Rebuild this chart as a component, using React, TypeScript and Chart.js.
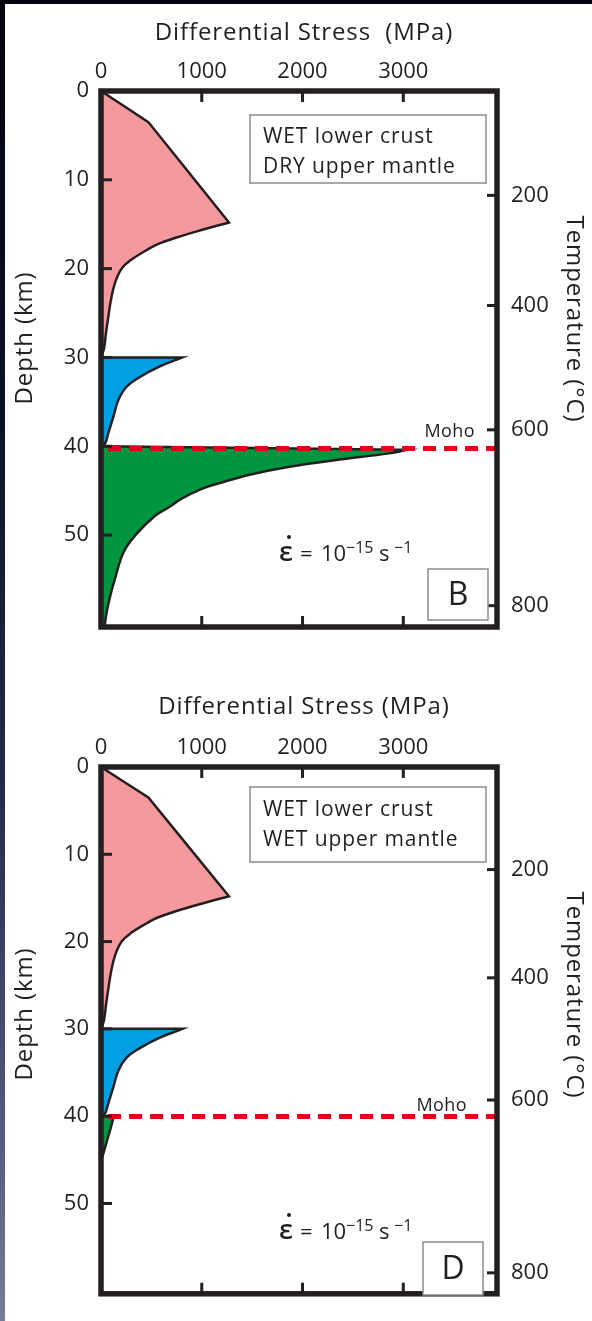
import React, { useEffect, useRef } from 'react';
import { Chart, registerables } from 'chart.js';

Chart.register(...registerables);

// ---------- data ----------
const stressTicks = [0, 1000, 2000, 3000];
const depthTicks = [0, 10, 20, 30, 40, 50];
const tempLabels = [200, 400, 600, 800];
const tempDepths = [11.75, 24.15, 38.15, 57.95];
const stressMax = 3930;
const depthMax = 60.35;

const mohoDepthB = 40.25;
const mohoDepthD = 40.05;
const mohoStress = [70, 3930];

// WET lower crust, upper part (pink) — same in both panels (corner points repeated)
const crustStress = [0, 470, 470, 1270, 1270, 1015, 750, 552, 455, 300, 205, 139, 99, 73, 50, 30, 0];
const crustDepth = [0, 3.5, 3.5, 14.8, 14.8, 15.6, 16.5, 17.3, 17.9, 19, 20, 21.6, 23.5, 25.4, 27.2, 29, 30];

// lower crust (blue)
const lowerStress = [0, 808, 808, 584, 386, 254, 172, 122, 73, 40, 0];
const lowerDepth = [30, 30, 30, 31, 32.2, 33.3, 34.8, 36.7, 38.5, 39.7, 40];

// DRY upper mantle (panel B, green)
const dryMantleStress = [0, 3040, 3040, 2860, 2366, 1871, 1475, 1160, 1000, 800, 670, 540, 350, 225, 139, 90, 56, 35, 35, 0];
const dryMantleDepth = [40, 40.4, 40.4, 40.8, 41.5, 42.3, 43.2, 44.2, 44.8, 45.9, 46.9, 47.8, 49.9, 51.9, 54.9, 56.9, 58.7, 60.35, 60.35, 60.35];

// WET upper mantle (panel D, green)
const wetMantleStress = [0, 120, 120, 115, 100, 80, 55, 30, 10, 0];
const wetMantleDepth = [40, 40, 40, 40.5, 41.2, 42, 43, 44, 44.8, 45.2];

// ---------- styling ----------
const FONT = '"Open Sans", "Noto Sans", sans-serif';
const INK = '#231f20';
const PINK = '#f4999d';
const BLUE = '#009ee2';
const GREEN = '#009640';
const RED = '#e2001a';

const zip = (xs: number[], ys: number[]) => xs.map((x, i) => ({ x, y: ys[i] }));

interface Deco {
  title: string;
  titleY: number;
  legend: string[];
  legendBox: [number, number, number, number];
  legendY: [number, number];
  mohoX: number;
  mohoY: number;
  strainY: number;
  letter: string;
  letterBox: [number, number, number, number];
}

function setSpacing(ctx: any, px: number) {
  try { ctx.letterSpacing = px + 'px'; } catch (e) { /* ignore */ }
}

const framePlugin = {
  id: 'frameTicks',
  afterDatasetsDraw(chart: any) {
    const ctx = chart.ctx;
    const a = chart.chartArea;
    ctx.save();
    ctx.strokeStyle = INK;
    ctx.lineCap = 'butt';
    ctx.lineWidth = 3;
    const xs = chart.scales.x;
    xs.ticks.forEach((t: any) => {
      if (t.value <= xs.min || t.value >= xs.max) return;
      const px = xs.getPixelForValue(t.value);
      ctx.beginPath();
      ctx.moveTo(px, a.top); ctx.lineTo(px, a.top + 11);
      ctx.moveTo(px, a.bottom); ctx.lineTo(px, a.bottom - 11);
      ctx.stroke();
    });
    const ys = chart.scales.y;
    ys.ticks.forEach((t: any) => {
      if (t.value <= ys.min || t.value >= ys.max) return;
      const py = ys.getPixelForValue(t.value);
      ctx.beginPath(); ctx.moveTo(a.left, py); ctx.lineTo(a.left + 11, py); ctx.stroke();
    });
    const yt = chart.scales.yT;
    yt.ticks.forEach((t: any) => {
      const py = yt.getPixelForValue(t.value);
      ctx.beginPath(); ctx.moveTo(a.right, py); ctx.lineTo(a.right - 10, py); ctx.stroke();
    });
    ctx.lineWidth = 5.5;
    ctx.lineJoin = 'miter';
    ctx.strokeRect(a.left, a.top, a.right - a.left, a.bottom - a.top);
    ctx.restore();
  },
};

function makeDecoPlugin(d: Deco) {
  return {
    id: 'deco',
    afterDraw(chart: any) {
      const ctx = chart.ctx;
      ctx.save();
      ctx.fillStyle = INK;
      // axis titles
      ctx.font = `500 24px ${FONT}`;
      setSpacing(ctx, 0.9);
      ctx.textAlign = 'center';
      ctx.textBaseline = 'middle';
      ctx.fillText(d.title, 304, d.titleY);
      ctx.save();
      ctx.translate(25, 338);
      ctx.rotate(-Math.PI / 2);
      ctx.fillText('Depth (km)', 0, 0);
      ctx.restore();
      ctx.save();
      ctx.translate(574, 319);
      ctx.rotate(Math.PI / 2);
      ctx.fillText('Temperature (°C)', 0, 0);
      ctx.restore();

      // legend box
      const [bx, by, bw, bh] = d.legendBox;
      ctx.strokeStyle = '#8c8c8c';
      ctx.lineWidth = 1.5;
      ctx.fillStyle = '#ffffff';
      ctx.fillRect(bx, by, bw, bh);
      ctx.strokeRect(bx, by, bw, bh);
      ctx.fillStyle = INK;
      ctx.font = `500 21px ${FONT}`;
      setSpacing(ctx, 0.9);
      ctx.textAlign = 'left';
      ctx.fillText(d.legend[0], bx + 13, d.legendY[0]);
      ctx.fillText(d.legend[1], bx + 13, d.legendY[1]);

      // Moho label
      ctx.font = `500 18px ${FONT}`;
      setSpacing(ctx, 0.4);
      ctx.textAlign = 'right';
      ctx.textBaseline = 'alphabetic';
      ctx.fillText('Moho', d.mohoX, d.mohoY);

      // strain rate
      setSpacing(ctx, 0);
      ctx.textAlign = 'left';
      const base = d.strainY + 9;
      ctx.font = `600 27px ${FONT}`;
      ctx.fillText('ε', 279, base);
      ctx.beginPath();
      ctx.arc(289, base - 24, 2, 0, Math.PI * 2);
      ctx.fill();
      ctx.font = `500 22px ${FONT}`;
      ctx.fillText('=', 300, base);
      ctx.fillText('10', 321, base);
      ctx.fillText('s', 379, base);
      ctx.font = `500 16px ${FONT}`;
      ctx.fillText('−15', 346, base - 8);
      ctx.fillText('−1', 394, base - 8);

      // panel letter
      const [lx, ly, lw, lh] = d.letterBox;
      ctx.fillStyle = '#ffffff';
      ctx.fillRect(lx, ly, lw, lh);
      ctx.strokeStyle = '#8c8c8c';
      ctx.lineWidth = 1.5;
      ctx.strokeRect(lx, ly, lw, lh);
      ctx.fillStyle = INK;
      ctx.font = `500 32px ${FONT}`;
      ctx.textAlign = 'center';
      ctx.textBaseline = 'middle';
      ctx.fillText(d.letter, lx + lw / 2, ly + lh / 2 + 1);
      ctx.restore();
    },
  };
}

interface PanelProps {
  top: number;
  height: number;
  mantleStress: number[];
  mantleDepth: number[];
  mohoDepth: number;
  deco: Deco;
}

function Panel({ top, height, mantleStress, mantleDepth, mohoDepth, deco }: PanelProps) {
  const ref = useRef<HTMLCanvasElement>(null);
  useEffect(() => {
    const canvas = ref.current!;
    const tickFont = { family: FONT, size: 22, weight: '500' };
    const area = (label: string, xs: number[], ys: number[], color: string) => ({
      label,
      data: zip(xs, ys),
      showLine: true,
      borderColor: INK,
      borderWidth: 2.5,
      backgroundColor: color,
      fill: 'shape',
      tension: 0.4,
      pointRadius: 0,
    });
    const chart = new Chart(canvas, {
      type: 'scatter',
      data: {
        datasets: [
          {
            label: 'Moho',
            data: zip(mohoStress, mohoStress.map(() => mohoDepth)),
            showLine: true,
            borderColor: RED,
            borderWidth: 5,
            borderDash: [13, 8],
            pointRadius: 0,
            fill: false,
          } as any,
          area('upper crust', crustStress, crustDepth, PINK),
          area('lower crust', lowerStress, lowerDepth, BLUE),
          area('upper mantle', mantleStress, mantleDepth, GREEN),
        ],
      },
      options: {
        animation: false,
        responsive: false,
        devicePixelRatio: 1,
        events: [],
        layout: { padding: { left: 0, right: 0, top: 0, bottom: height - 627 } },
        plugins: { legend: { display: false }, tooltip: { enabled: false } },
        scales: {
          x: {
            type: 'linear',
            position: 'top',
            min: 0,
            max: stressMax,
            afterBuildTicks: (s: any) => { s.ticks = stressTicks.map((v) => ({ value: v })); },
            afterFit: (s: any) => { s.height = 91; },
            grid: { display: false, drawTicks: false },
            border: { display: false },
            ticks: { font: tickFont, color: INK, padding: 6, maxRotation: 0, autoSkip: false, callback: (v: any) => String(v) },
          },
          y: {
            type: 'linear',
            position: 'left',
            reverse: true,
            min: 0,
            max: depthMax,
            afterBuildTicks: (s: any) => { s.ticks = depthTicks.map((v) => ({ value: v })); },
            afterFit: (s: any) => { s.width = 101; },
            grid: { display: false, drawTicks: false },
            border: { display: false },
            ticks: { font: tickFont, color: INK, padding: 12, autoSkip: false, callback: (v: any) => String(v) },
          },
          yT: {
            type: 'linear',
            position: 'right',
            reverse: true,
            min: 0,
            max: depthMax,
            afterBuildTicks: (s: any) => { s.ticks = tempDepths.map((v) => ({ value: v })); },
            afterFit: (s: any) => { s.width = 95; },
            grid: { display: false, drawTicks: false },
            border: { display: false },
            ticks: { font: tickFont, color: INK, padding: 14, autoSkip: false, callback: (_v: any, i: number) => String(tempLabels[i]) },
          },
        },
      } as any,
      plugins: [framePlugin, makeDecoPlugin(deco)],
    });
    return () => chart.destroy();
  }, []);
  return (
    <canvas
      ref={ref}
      width={592}
      height={height}
      style={{ position: 'absolute', left: 0, top, width: 592, height }}
    />
  );
}

const decoB: Deco = {
  title: 'Differential Stress  (MPa)',
  titleY: 33,
  legend: ['WET lower crust', 'DRY upper mantle'],
  legendBox: [250, 115, 236, 68],
  legendY: [137, 167],
  mohoX: 475,
  mohoY: 437,
  strainY: 552,
  letter: 'B',
  letterBox: [428, 569, 60, 51],
};

const decoD: Deco = {
  title: 'Differential Stress (MPa)',
  titleY: 31,
  legend: ['WET lower crust', 'WET upper mantle'],
  legendBox: [250, 111, 236, 75],
  legendY: [134, 164],
  mohoX: 467,
  mohoY: 435,
  strainY: 554,
  letter: 'D',
  letterBox: [423, 566, 60, 53],
};

export default function App() {
  return (
    <div
      style={{
        position: 'absolute',
        left: 0,
        top: 0,
        width: 592,
        height: 1321,
        overflow: 'hidden',
        background: 'linear-gradient(180deg, #03040a 0%, #0d1024 30%, #262a4a 60%, #55587a 85%, #7a7b98 100%)',
      }}
    >
      <div style={{ position: 'absolute', left: 5, top: 4, right: 0, bottom: 0, background: '#ffffff' }} />
      <Panel top={0} height={660} mantleStress={dryMantleStress} mantleDepth={dryMantleDepth} mohoDepth={mohoDepthB} deco={decoB} />
      <Panel top={676} height={645} mantleStress={wetMantleStress} mantleDepth={wetMantleDepth} mohoDepth={mohoDepthD} deco={decoD} />
    </div>
  );
}
